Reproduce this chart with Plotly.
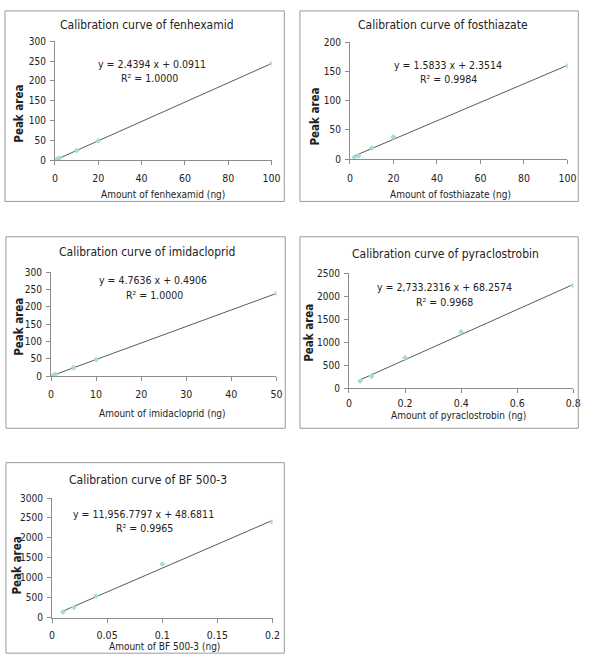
import plotly.graph_objects as go

W, H = 601, 668

# ---------------- data ----------------
names = ["fenhexamid", "fosthiazate", "imidacloprid", "pyraclostrobin", "BF 500-3"]

fen_x = [1, 2, 10, 20, 100]
fen_y = [2.6, 4.9, 24.5, 48.9, 244.0]
fos_x = [2, 4, 10, 20, 100]
fos_y = [3.5, 6.0, 19.0, 38.0, 160.0]
imi_x = [0.5, 1, 5, 10, 50]
imi_y = [2.9, 5.5, 24.5, 48.0, 238.7]
pyr_x = [0.04, 0.08, 0.2, 0.4, 0.8]
pyr_y = [150, 256, 660, 1220, 2230]
bf_x = [0.01, 0.02, 0.04, 0.1, 0.2]
bf_y = [147, 265, 545, 1345, 2400]

slopes = [2.4394, 1.5833, 4.7636, 2733.2316, 11956.7797]
intercepts = [0.0911, 2.3514, 0.4906, 68.2574, 48.6811]
equations = ["y = 2.4394 x + 0.0911", "y = 1.5833 x + 2.3514", "y = 4.7636 x + 0.4906",
             "y = 2,733.2316 x + 68.2574", "y = 11,956.7797 x + 48.6811"]
r2_labels = ["R² = 1.0000", "R² = 0.9984", "R² = 1.0000", "R² = 0.9968", "R² = 0.9965"]

x_ticks = [[0, 20, 40, 60, 80, 100], [0, 20, 40, 60, 80, 100], [0, 10, 20, 30, 40, 50],
           [0, 0.2, 0.4, 0.6, 0.8], [0, 0.05, 0.1, 0.15, 0.2]]
x_ticktext = [["0", "20", "40", "60", "80", "100"], ["0", "20", "40", "60", "80", "100"],
              ["0", "10", "20", "30", "40", "50"], ["0", "0.2", "0.4", "0.6", "0.8"],
              ["0", "0.05", "0.1", "0.15", "0.2"]]
y_ticks = [[0, 50, 100, 150, 200, 250, 300], [0, 50, 100, 150, 200],
           [0, 50, 100, 150, 200, 250, 300], [0, 500, 1000, 1500, 2000, 2500],
           [0, 500, 1000, 1500, 2000, 2500, 3000]]

xs = [fen_x, fos_x, imi_x, pyr_x, bf_x]
ys = [fen_y, fos_y, imi_y, pyr_y, bf_y]

# ---------------- layout (pixel geometry) ----------------
plot_px = [(53, 274, 157, 36), (354, 576, 156, 37), (49, 279, 377, 271),
           (353, 582, 389, 272), (50, 275, 623, 501)]
border_px = [(2, 5, 287, 199), (303, 5, 587, 199), (3, 235, 288, 430),
             (303, 235, 587, 430), (3, 465, 287, 659)]
title_px = [(147, 19), (449, 19), (147, 250), (452, 253), (148, 483)]
ytitle_px = [(16, 110), (318, 113), (16, 327), (312, 333), (14, 570)]
xtitle_px = [(163, 192), (457, 192), (163, 415), (465, 417), (165, 652)]
eq_px = [(152, 59), (454, 60), (153, 279), (451, 286), (143, 517)]
r2_px = [(149, 73), (455, 74), (155, 294), (451, 301), (144, 532)]
xstandoff = [4, 5, 4, 1, 4]

FONT = "DejaVu Sans Condensed, Liberation Sans Narrow, Arial Narrow, Arial, sans-serif"
TXT = "#222222"
AX = "#8c8c8c"

def px(x):
    return x / W

def py(y):
    return 1 - y / H

fig = go.Figure()
layout = dict(width=W, height=H, margin=dict(l=0, r=0, t=0, b=0),
              paper_bgcolor="white", plot_bgcolor="white", showlegend=False,
              font=dict(family=FONT, color=TXT, size=11))
annotations = []
shapes = []

for i in range(5):
    n = i + 1
    xa = "x" if n == 1 else f"x{n}"
    ya = "y" if n == 1 else f"y{n}"
    x0, x1, yb, yt = plot_px[i]
    xmax = x_ticks[i][-1]
    ymax = y_ticks[i][-1]
    layout["xaxis" if n == 1 else f"xaxis{n}"] = dict(
        domain=[px(x0), px(x1)], anchor=ya, range=[0, xmax],
        showgrid=False, zeroline=False, showline=True, linecolor=AX, linewidth=1,
        ticks="outside", ticklen=4, tickcolor=AX, tickvals=x_ticks[i],
        ticklabelstandoff=xstandoff[i],
        ticktext=x_ticktext[i], tickfont=dict(size=10.5, color=TXT, family=FONT))
    layout["yaxis" if n == 1 else f"yaxis{n}"] = dict(
        domain=[py(yb), py(yt)], anchor=xa, range=[0, ymax],
        showgrid=False, zeroline=False, showline=True, linecolor=AX, linewidth=1,
        ticks="outside", ticklen=4, tickcolor=AX, tickvals=y_ticks[i],
        ticklabelstandoff=2,
        tickfont=dict(size=10, color=TXT, family=FONT))

    tx = [min(xs[i]), max(xs[i])]
    ty = [slopes[i] * v + intercepts[i] for v in tx]
    fig.add_trace(go.Scatter(x=tx, y=ty, mode="lines", xaxis=xa, yaxis=ya,
                             line=dict(color="#5a5a5a", width=1), hoverinfo="skip"))
    fig.add_trace(go.Scatter(x=xs[i], y=ys[i], mode="markers", xaxis=xa, yaxis=ya,
                             marker=dict(symbol="diamond", size=4.5, color="#a3dcd8",
                                         line=dict(width=0))))

    bx0, by0, bx1, by1 = border_px[i]
    shapes.append(dict(type="rect", xref="paper", yref="paper",
                       x0=px(bx0), x1=px(bx1), y0=py(by1), y1=py(by0),
                       line=dict(color="#9a9a9a", width=1)))

    def ann(text, pos, size, bold=False, angle=0):
        t = f"<b>{text}</b>" if bold else text
        annotations.append(dict(text=t, x=px(pos[0]), y=py(pos[1]), xref="paper", yref="paper",
                                xanchor="center", yanchor="middle", showarrow=False,
                                textangle=angle, font=dict(size=size, color=TXT, family=FONT)))

    ann(f"Calibration curve of {names[i]}", title_px[i], 12)
    ann("Peak area", ytitle_px[i], 11.5, bold=True, angle=-90)
    ann(f"Amount of {names[i]} (ng)", xtitle_px[i], 10)
    ann(equations[i], eq_px[i], 10.5)
    ann(r2_labels[i], r2_px[i], 10.5)

layout["annotations"] = annotations
layout["shapes"] = shapes
fig.update_layout(**layout)
fig.write_html("out.html", config={"displayModeBar": False},
               post_script="document.body.style.margin='0';document.body.style.padding='0';")
